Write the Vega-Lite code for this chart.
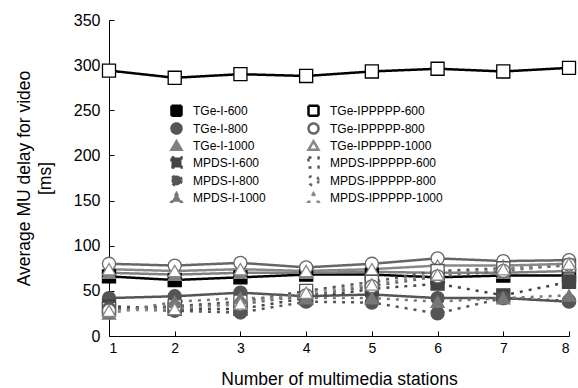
{
  "$schema": "https://vega.github.io/schema/vega-lite/v6.json",
  "width": 460,
  "height": 316,
  "autosize": {"type": "none"},
  "padding": {"left": 109, "top": 20, "right": 9, "bottom": 52},
  "background": "white",
  "config": {
    "view": {"stroke": null},
    "font": "Liberation Sans",
    "axis": {"grid": false, "domainColor": "black", "tickColor": "black", "labelColor": "black", "titleColor": "black", "labelFont": "Liberation Sans", "titleFont": "Liberation Sans", "titleFontWeight": "normal"}
  },
  "data": {
    "values": [
      {"series": "TGe-I-600", "x": 1, "y": 66}, {"series": "TGe-I-600", "x": 2, "y": 62}, {"series": "TGe-I-600", "x": 3, "y": 65}, {"series": "TGe-I-600", "x": 4, "y": 68}, {"series": "TGe-I-600", "x": 5, "y": 68}, {"series": "TGe-I-600", "x": 6, "y": 65}, {"series": "TGe-I-600", "x": 7, "y": 67}, {"series": "TGe-I-600", "x": 8, "y": 67},
      {"series": "TGe-IPPPPP-600", "x": 1, "y": 294}, {"series": "TGe-IPPPPP-600", "x": 2, "y": 286}, {"series": "TGe-IPPPPP-600", "x": 3, "y": 290}, {"series": "TGe-IPPPPP-600", "x": 4, "y": 288}, {"series": "TGe-IPPPPP-600", "x": 5, "y": 293}, {"series": "TGe-IPPPPP-600", "x": 6, "y": 296}, {"series": "TGe-IPPPPP-600", "x": 7, "y": 293}, {"series": "TGe-IPPPPP-600", "x": 8, "y": 297},
      {"series": "TGe-I-800", "x": 1, "y": 42}, {"series": "TGe-I-800", "x": 2, "y": 44}, {"series": "TGe-I-800", "x": 3, "y": 48}, {"series": "TGe-I-800", "x": 4, "y": 44}, {"series": "TGe-I-800", "x": 5, "y": 46}, {"series": "TGe-I-800", "x": 6, "y": 42}, {"series": "TGe-I-800", "x": 7, "y": 42}, {"series": "TGe-I-800", "x": 8, "y": 38},
      {"series": "TGe-IPPPPP-800", "x": 1, "y": 80}, {"series": "TGe-IPPPPP-800", "x": 2, "y": 78}, {"series": "TGe-IPPPPP-800", "x": 3, "y": 81}, {"series": "TGe-IPPPPP-800", "x": 4, "y": 76}, {"series": "TGe-IPPPPP-800", "x": 5, "y": 80}, {"series": "TGe-IPPPPP-800", "x": 6, "y": 86}, {"series": "TGe-IPPPPP-800", "x": 7, "y": 83}, {"series": "TGe-IPPPPP-800", "x": 8, "y": 84},
      {"series": "TGe-I-1000", "x": 1, "y": 70}, {"series": "TGe-I-1000", "x": 2, "y": 68}, {"series": "TGe-I-1000", "x": 3, "y": 70}, {"series": "TGe-I-1000", "x": 4, "y": 70}, {"series": "TGe-I-1000", "x": 5, "y": 71}, {"series": "TGe-I-1000", "x": 6, "y": 70}, {"series": "TGe-I-1000", "x": 7, "y": 70}, {"series": "TGe-I-1000", "x": 8, "y": 72},
      {"series": "TGe-IPPPPP-1000", "x": 1, "y": 74}, {"series": "TGe-IPPPPP-1000", "x": 2, "y": 72}, {"series": "TGe-IPPPPP-1000", "x": 3, "y": 74}, {"series": "TGe-IPPPPP-1000", "x": 4, "y": 72}, {"series": "TGe-IPPPPP-1000", "x": 5, "y": 74}, {"series": "TGe-IPPPPP-1000", "x": 6, "y": 78}, {"series": "TGe-IPPPPP-1000", "x": 7, "y": 78}, {"series": "TGe-IPPPPP-1000", "x": 8, "y": 80},
      {"series": "MPDS-I-600", "x": 1, "y": 33}, {"series": "MPDS-I-600", "x": 2, "y": 30}, {"series": "MPDS-I-600", "x": 3, "y": 30}, {"series": "MPDS-I-600", "x": 4, "y": 42}, {"series": "MPDS-I-600", "x": 5, "y": 52}, {"series": "MPDS-I-600", "x": 6, "y": 58}, {"series": "MPDS-I-600", "x": 7, "y": 45}, {"series": "MPDS-I-600", "x": 8, "y": 60},
      {"series": "MPDS-IPPPPP-600", "x": 1, "y": 30}, {"series": "MPDS-IPPPPP-600", "x": 2, "y": 33}, {"series": "MPDS-IPPPPP-600", "x": 3, "y": 38}, {"series": "MPDS-IPPPPP-600", "x": 4, "y": 50}, {"series": "MPDS-IPPPPP-600", "x": 5, "y": 60}, {"series": "MPDS-IPPPPP-600", "x": 6, "y": 72}, {"series": "MPDS-IPPPPP-600", "x": 7, "y": 75}, {"series": "MPDS-IPPPPP-600", "x": 8, "y": 78},
      {"series": "MPDS-I-800", "x": 1, "y": 30}, {"series": "MPDS-I-800", "x": 2, "y": 28}, {"series": "MPDS-I-800", "x": 3, "y": 26}, {"series": "MPDS-I-800", "x": 4, "y": 38}, {"series": "MPDS-I-800", "x": 5, "y": 37}, {"series": "MPDS-I-800", "x": 6, "y": 25}, {"series": "MPDS-I-800", "x": 7, "y": 42}, {"series": "MPDS-I-800", "x": 8, "y": 39},
      {"series": "MPDS-IPPPPP-800", "x": 1, "y": 28}, {"series": "MPDS-IPPPPP-800", "x": 2, "y": 32}, {"series": "MPDS-IPPPPP-800", "x": 3, "y": 35}, {"series": "MPDS-IPPPPP-800", "x": 4, "y": 45}, {"series": "MPDS-IPPPPP-800", "x": 5, "y": 55}, {"series": "MPDS-IPPPPP-800", "x": 6, "y": 66}, {"series": "MPDS-IPPPPP-800", "x": 7, "y": 72}, {"series": "MPDS-IPPPPP-800", "x": 8, "y": 79},
      {"series": "MPDS-I-1000", "x": 1, "y": 25}, {"series": "MPDS-I-1000", "x": 2, "y": 38}, {"series": "MPDS-I-1000", "x": 3, "y": 42}, {"series": "MPDS-I-1000", "x": 4, "y": 42}, {"series": "MPDS-I-1000", "x": 5, "y": 42}, {"series": "MPDS-I-1000", "x": 6, "y": 38}, {"series": "MPDS-I-1000", "x": 7, "y": 42}, {"series": "MPDS-I-1000", "x": 8, "y": 45},
      {"series": "MPDS-IPPPPP-1000", "x": 1, "y": 28}, {"series": "MPDS-IPPPPP-1000", "x": 2, "y": 30}, {"series": "MPDS-IPPPPP-1000", "x": 3, "y": 36}, {"series": "MPDS-IPPPPP-1000", "x": 4, "y": 48}, {"series": "MPDS-IPPPPP-1000", "x": 5, "y": 57}, {"series": "MPDS-IPPPPP-1000", "x": 6, "y": 68}, {"series": "MPDS-IPPPPP-1000", "x": 7, "y": 74}, {"series": "MPDS-IPPPPP-1000", "x": 8, "y": 80}
    ]
  },
  "encoding": {
    "x": {"field": "x", "type": "quantitative", "scale": {"domain": [1, 8], "nice": false},
      "axis": {"values": [1,2,3,4,5,6,7,8], "title": "Number of multimedia stations", "titleFontSize": 17.5, "titlePadding": 15, "labelFontSize": 14, "tickSize": -5, "labelPadding": 10, "format": "d"}},
    "y": {"field": "y", "type": "quantitative", "scale": {"domain": [0, 350], "nice": false},
      "axis": {"values": [0,50,100,150,200,250,300,350], "title": ["Average MU delay for video", "[ms]"], "titleFontSize": 17.5, "titleLineHeight": 21, "titlePadding": 19, "labelFontSize": 16, "tickSize": -5, "labelPadding": 14}}
  },
  "layer": [
    {
      "mark": {"type": "line"},
      "encoding": {
        "stroke": {"field": "series", "type": "nominal", "title": null,
          "scale": {"domain": ["TGe-I-600", "TGe-I-800", "TGe-I-1000", "MPDS-I-600", "MPDS-I-800", "MPDS-I-1000", "TGe-IPPPPP-600", "TGe-IPPPPP-800", "TGe-IPPPPP-1000", "MPDS-IPPPPP-600", "MPDS-IPPPPP-800", "MPDS-IPPPPP-1000"],
            "range": ["#000000", "#555555", "#808080", "#444444", "#555555", "#777777", "#000000", "#666666", "#888888", "#555555", "#666666", "#888888"]}},
        "strokeDash": {"field": "series", "type": "nominal", "title": null,
          "scale": {"domain": ["TGe-I-600", "TGe-I-800", "TGe-I-1000", "MPDS-I-600", "MPDS-I-800", "MPDS-I-1000", "TGe-IPPPPP-600", "TGe-IPPPPP-800", "TGe-IPPPPP-1000", "MPDS-IPPPPP-600", "MPDS-IPPPPP-800", "MPDS-IPPPPP-1000"],
            "range": [[1,0], [1,0], [1,0], [3,6], [3,6], [3,6], [1,0], [1,0], [1,0], [3,6], [3,6], [3,6]]}},
        "strokeWidth": {"field": "series", "type": "nominal", "legend": null,
          "scale": {"domain": ["TGe-I-600", "TGe-I-800", "TGe-I-1000", "MPDS-I-600", "MPDS-I-800", "MPDS-I-1000", "TGe-IPPPPP-600", "TGe-IPPPPP-800", "TGe-IPPPPP-1000", "MPDS-IPPPPP-600", "MPDS-IPPPPP-800", "MPDS-IPPPPP-1000"],
            "range": [2.5, 2.5, 2.5, 2, 2, 2, 2.5, 2.5, 2.5, 2, 2, 2]}}
      }
    },
    {
      "mark": {"type": "point", "size": 170, "strokeWidth": 1.3, "opacity": 1},
      "encoding": {
        "stroke": {"field": "series", "type": "nominal", "title": null,
          "legend": {"orient": "none", "legendX": 61, "legendY": 84, "columns": 2, "columnPadding": 37, "rowPadding": -3, "padding": 0, "gridAlign": "each", "symbolSize": 100, "symbolStrokeWidth": 2, "labelOffset": 10, "labelFontSize": 12, "labelFont": "Liberation Sans", "labelColor": "black"},
          "scale": {"domain": ["TGe-I-600", "TGe-I-800", "TGe-I-1000", "MPDS-I-600", "MPDS-I-800", "MPDS-I-1000", "TGe-IPPPPP-600", "TGe-IPPPPP-800", "TGe-IPPPPP-1000", "MPDS-IPPPPP-600", "MPDS-IPPPPP-800", "MPDS-IPPPPP-1000"],
            "range": ["#000000", "#555555", "#808080", "#444444", "#555555", "#777777", "#000000", "#666666", "#888888", "#555555", "#666666", "#888888"]}},
        "fill": {"field": "series", "type": "nominal", "title": null,
          "scale": {"domain": ["TGe-I-600", "TGe-I-800", "TGe-I-1000", "MPDS-I-600", "MPDS-I-800", "MPDS-I-1000", "TGe-IPPPPP-600", "TGe-IPPPPP-800", "TGe-IPPPPP-1000", "MPDS-IPPPPP-600", "MPDS-IPPPPP-800", "MPDS-IPPPPP-1000"],
            "range": ["#000000", "#555555", "#808080", "#444444", "#555555", "#777777", "#ffffff", "#ffffff", "#ffffff", "#ffffff", "#ffffff", "#ffffff"]}},
        "fillOpacity": {"field": "series", "type": "nominal", "legend": null,
          "scale": {"domain": ["TGe-I-600", "TGe-I-800", "TGe-I-1000", "MPDS-I-600", "MPDS-I-800", "MPDS-I-1000", "TGe-IPPPPP-600", "TGe-IPPPPP-800", "TGe-IPPPPP-1000", "MPDS-IPPPPP-600", "MPDS-IPPPPP-800", "MPDS-IPPPPP-1000"],
            "range": [1, 1, 1, 1, 1, 1, 0, 0, 0, 0, 0, 0]}},
        "shape": {"field": "series", "type": "nominal", "title": null,
          "scale": {"domain": ["TGe-I-600", "TGe-I-800", "TGe-I-1000", "MPDS-I-600", "MPDS-I-800", "MPDS-I-1000", "TGe-IPPPPP-600", "TGe-IPPPPP-800", "TGe-IPPPPP-1000", "MPDS-IPPPPP-600", "MPDS-IPPPPP-800", "MPDS-IPPPPP-1000"],
            "range": ["square", "circle", "triangle-up", "square", "circle", "triangle-up", "square", "circle", "triangle-up", "square", "circle", "triangle-up"]}}
      }
    }
  ]
}
